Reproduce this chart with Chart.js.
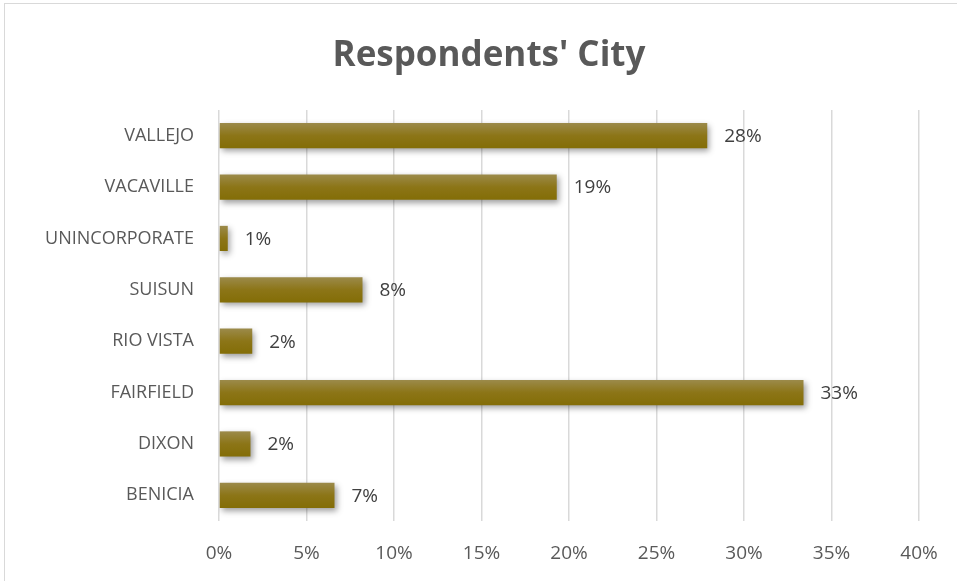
<!DOCTYPE html>
<html>
<head>
<meta charset="utf-8">
<title>Respondents' City</title>
<script src="https://cdn.jsdelivr.net/npm/chart.js@4.4.1/dist/chart.umd.min.js"></script>
<style>
  html, body { margin: 0; padding: 0; background: #fff; overflow: hidden; }
  body { width: 957px; height: 581px; position: relative; }
  #frame {
    position: absolute; left: 4px; top: 3px;
    width: 968px; height: 600px;
    border: 1.5px solid #d9d9d9;
    background: #fff;
  }
</style>
</head>
<body>
<div id="frame"><canvas id="cityChart" width="968" height="600"></canvas></div>
<script>
// share of respondents per city (percent)
const cities = ['VALLEJO', 'VACAVILLE', 'UNINCORPORATE', 'SUISUN', 'RIO VISTA', 'FAIRFIELD', 'DIXON', 'BENICIA'];
const shares = [27.9, 19.3, 0.5, 8.2, 1.9, 33.4, 1.8, 6.6];
const xTicks = [0, 5, 10, 15, 20, 25, 30, 35, 40];

const textFont = "'Open Sans', 'Noto Sans', sans-serif";

// olive bar fill, lighter at the top edge
function barFill(context) {
    const chart = context.chart;
    const yScale = chart.scales.y;
    if (!chart.chartArea || !yScale || context.dataIndex === undefined) return '#8a7412';
    const cy = yScale.getPixelForValue(context.dataIndex);
    const g = chart.ctx.createLinearGradient(0, cy - 13, 0, cy + 13);
    g.addColorStop(0, '#9c8b4c');
    g.addColorStop(0.5, '#8c7517');
    g.addColorStop(1, '#836d06');
    return g;
}

// soft drop shadow under the bars
const barShadow = {
    id: 'barShadow',
    beforeDatasetsDraw(chart) {
        const ctx = chart.ctx;
        ctx.save();
        ctx.shadowColor = 'rgba(0,0,0,0.38)';
        ctx.shadowBlur = 6;
        ctx.shadowOffsetX = 2;
        ctx.shadowOffsetY = 3;
    },
    afterDatasetsDraw(chart) {
        chart.ctx.restore();
    }
};

// percentage text right of each bar
const valueLabels = {
    id: 'valueLabels',
    afterDraw(chart) {
        const ctx = chart.ctx;
        const meta = chart.getDatasetMeta(0);
        ctx.save();
        ctx.font = '19px ' + textFont;
        ctx.fillStyle = '#404040';
        ctx.textAlign = 'left';
        ctx.textBaseline = 'middle';
        meta.data.forEach((bar, i) => {
            ctx.fillText(Math.round(shares[i]) + '%', bar.x + 17, bar.y + 1);
        });
        ctx.restore();
    }
};

new Chart(document.getElementById('cityChart'), {
    type: 'bar',
    data: {
        labels: cities,
        datasets: [{
            data: shares,
            backgroundColor: barFill,
            borderWidth: 0,
            barPercentage: 0.49,
            categoryPercentage: 1
        }]
    },
    options: {
        indexAxis: 'y',
        responsive: false,
        animation: false,
        layout: { padding: 0 },
        scales: {
            x: {
                min: 0,
                max: 40,
                afterBuildTicks(scale) {
                    scale.ticks = xTicks.map(v => ({ value: v }));
                },
                afterFit(scale) {
                    scale.height = 83;
                    scale.paddingRight = 54;
                },
                grid: { color: '#d9d9d9', lineWidth: 1.5, drawTicks: false },
                border: { display: false },
                ticks: {
                    padding: 21,
                    color: '#595959',
                    font: { family: textFont, size: 19 },
                    callback: v => v + '%'
                }
            },
            y: {
                afterFit(scale) { scale.width = 214; },
                grid: { display: false },
                border: { display: false },
                ticks: {
                    padding: 17,
                    color: '#595959',
                    font: { family: textFont, size: 18 }
                }
            }
        },
        plugins: {
            legend: { display: false },
            tooltip: { enabled: false },
            title: {
                display: true,
                text: "Respondents' City",
                color: '#595959',
                font: { family: textFont, size: 35, weight: 'bold' },
                padding: { top: 31, bottom: 33 }
            }
        }
    },
    plugins: [barShadow, valueLabels]
});
</script>
</body>
</html>
